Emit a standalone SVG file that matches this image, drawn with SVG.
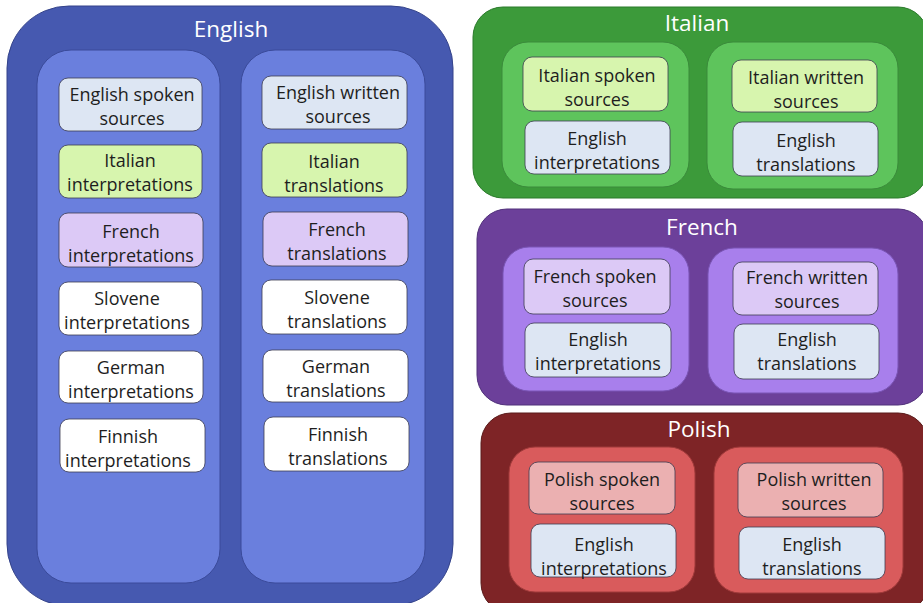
<svg xmlns="http://www.w3.org/2000/svg" width="923" height="603" viewBox="0 0 923 603">
<style>
text{font-family:"Open Sans","Noto Sans",sans-serif;text-anchor:middle}
.t{font-size:18px;fill:#1e1e1e}
.h{font-size:22.5px;fill:#ffffff}
.b{stroke:#3c3c50;stroke-width:0.8}
.blue{fill:#dde6f3}
.grn{fill:#d7f5ae}
.pur{fill:#dcc9f6}
.wht{fill:#ffffff}
.pnk{fill:#ebb0b1}
</style>
<rect width="923" height="603" fill="#ffffff"/>

<g id="english">
<rect x="7" y="6" width="446" height="600" rx="62" fill="#4659b0" stroke="#34438a" stroke-width="1"/>
<text class="h" x="231" y="37">English</text>
<rect x="37" y="50" width="183" height="533" rx="34" fill="#6a7fdd" stroke="#3a4a9a" stroke-width="1"/>
<rect x="241" y="50" width="184" height="533" rx="34" fill="#6a7fdd" stroke="#3a4a9a" stroke-width="1"/>
</g>

<g id="en-spoken"><rect class="b blue" x="59" y="78" width="143" height="53" rx="9"/><text class="t" x="132" y="101">English spoken</text><text class="t" x="132" y="125">sources</text></g>
<g id="en-it-interp"><rect class="b grn" x="59" y="145" width="143" height="53" rx="9"/><text class="t" x="130" y="167">Italian</text><text class="t" x="130" y="191">interpretations</text></g>
<g id="en-fr-interp"><rect class="b pur" x="59" y="213" width="144" height="54" rx="9"/><text class="t" x="131" y="238">French</text><text class="t" x="131" y="262">interpretations</text></g>
<g id="en-sl-interp"><rect class="b wht" x="59" y="282" width="143" height="53" rx="9"/><text class="t" x="127" y="305">Slovene</text><text class="t" x="127" y="329">interpretations</text></g>
<g id="en-de-interp"><rect class="b wht" x="59" y="351" width="144" height="52" rx="9"/><text class="t" x="131" y="374">German</text><text class="t" x="131" y="398">interpretations</text></g>
<g id="en-fi-interp"><rect class="b wht" x="60" y="419" width="145" height="53" rx="9"/><text class="t" x="128" y="443">Finnish</text><text class="t" x="128" y="467">interpretations</text></g>

<g id="en-written"><rect class="b blue" x="262" y="76" width="145" height="53" rx="9"/><text class="t" x="338" y="99">English written</text><text class="t" x="338" y="123">sources</text></g>
<g id="en-it-trans"><rect class="b grn" x="262" y="143" width="145" height="54" rx="9"/><text class="t" x="334" y="168">Italian</text><text class="t" x="334" y="192">translations</text></g>
<g id="en-fr-trans"><rect class="b pur" x="263" y="212" width="145" height="54" rx="9"/><text class="t" x="337" y="236">French</text><text class="t" x="337" y="260">translations</text></g>
<g id="en-sl-trans"><rect class="b wht" x="262" y="280" width="145" height="54" rx="9"/><text class="t" x="337" y="304">Slovene</text><text class="t" x="337" y="328">translations</text></g>
<g id="en-de-trans"><rect class="b wht" x="263" y="350" width="145" height="52" rx="9"/><text class="t" x="336" y="373">German</text><text class="t" x="336" y="397">translations</text></g>
<g id="en-fi-trans"><rect class="b wht" x="264" y="417" width="145" height="54" rx="9"/><text class="t" x="338" y="441">Finnish</text><text class="t" x="338" y="465">translations</text></g>

<g id="italian">
<rect x="473" y="7" width="455" height="191" rx="30" fill="#3c9a3a" stroke="#2a7a2a" stroke-width="1"/>
<text class="h" x="697" y="31">Italian</text>
<rect x="502" y="42" width="187" height="145" rx="26" fill="#5ec45c" stroke="#3a8a3a" stroke-width="1"/>
<rect x="707" y="42" width="191" height="147" rx="26" fill="#5ec45c" stroke="#3a8a3a" stroke-width="1"/>
</g>
<g id="it-spoken"><rect class="b grn" x="523" y="57" width="145" height="54" rx="9"/><text class="t" x="597" y="82">Italian spoken</text><text class="t" x="597" y="106">sources</text></g>
<g id="it-en-interp"><rect class="b blue" x="525" y="121" width="145" height="53" rx="9"/><text class="t" x="597" y="145">English</text><text class="t" x="597" y="169">interpretations</text></g>
<g id="it-written"><rect class="b grn" x="732" y="60" width="145" height="52" rx="9"/><text class="t" x="806" y="84">Italian written</text><text class="t" x="806" y="108">sources</text></g>
<g id="it-en-trans"><rect class="b blue" x="733" y="122" width="145" height="54" rx="9"/><text class="t" x="806" y="147">English</text><text class="t" x="806" y="171">translations</text></g>

<g id="french">
<rect x="477" y="209" width="451" height="196" rx="30" fill="#6c409a" stroke="#50307a" stroke-width="1"/>
<text class="h" x="702" y="235">French</text>
<rect x="503" y="247" width="186" height="144" rx="26" fill="#a87fec" stroke="#7a55b5" stroke-width="1"/>
<rect x="708" y="248" width="190" height="145" rx="26" fill="#a87fec" stroke="#7a55b5" stroke-width="1"/>
</g>
<g id="fr-spoken"><rect class="b pur" x="524" y="259" width="146" height="55" rx="9"/><text class="t" x="595" y="283">French spoken</text><text class="t" x="595" y="307">sources</text></g>
<g id="fr-en-interp"><rect class="b blue" x="525" y="323" width="146" height="54" rx="9"/><text class="t" x="598" y="346">English</text><text class="t" x="598" y="370">interpretations</text></g>
<g id="fr-written"><rect class="b pur" x="733" y="262" width="145" height="53" rx="9"/><text class="t" x="807" y="284">French written</text><text class="t" x="807" y="308">sources</text></g>
<g id="fr-en-trans"><rect class="b blue" x="734" y="324" width="145" height="55" rx="9"/><text class="t" x="807" y="346">English</text><text class="t" x="807" y="370">translations</text></g>

<g id="polish">
<rect x="481" y="413" width="447" height="200" rx="30" fill="#7e2426" stroke="#5a1a1a" stroke-width="1"/>
<text class="h" x="699" y="437">Polish</text>
<rect x="509" y="447" width="186" height="145" rx="26" fill="#d95b5c" stroke="#a03a3a" stroke-width="1"/>
<rect x="714" y="447" width="189" height="146" rx="26" fill="#d95b5c" stroke="#a03a3a" stroke-width="1"/>
</g>
<g id="pl-spoken"><rect class="b pnk" x="529" y="462" width="146" height="52" rx="9"/><text class="t" x="602" y="486">Polish spoken</text><text class="t" x="602" y="510">sources</text></g>
<g id="pl-en-interp"><rect class="b blue" x="531" y="524" width="145" height="53" rx="9"/><text class="t" x="604" y="551">English</text><text class="t" x="604" y="575">interpretations</text></g>
<g id="pl-written"><rect class="b pnk" x="738" y="463" width="145" height="54" rx="9"/><text class="t" x="814" y="486">Polish written</text><text class="t" x="814" y="510">sources</text></g>
<g id="pl-en-trans"><rect class="b blue" x="739" y="527" width="146" height="52" rx="9"/><text class="t" x="812" y="551">English</text><text class="t" x="812" y="575">translations</text></g>
</svg>
